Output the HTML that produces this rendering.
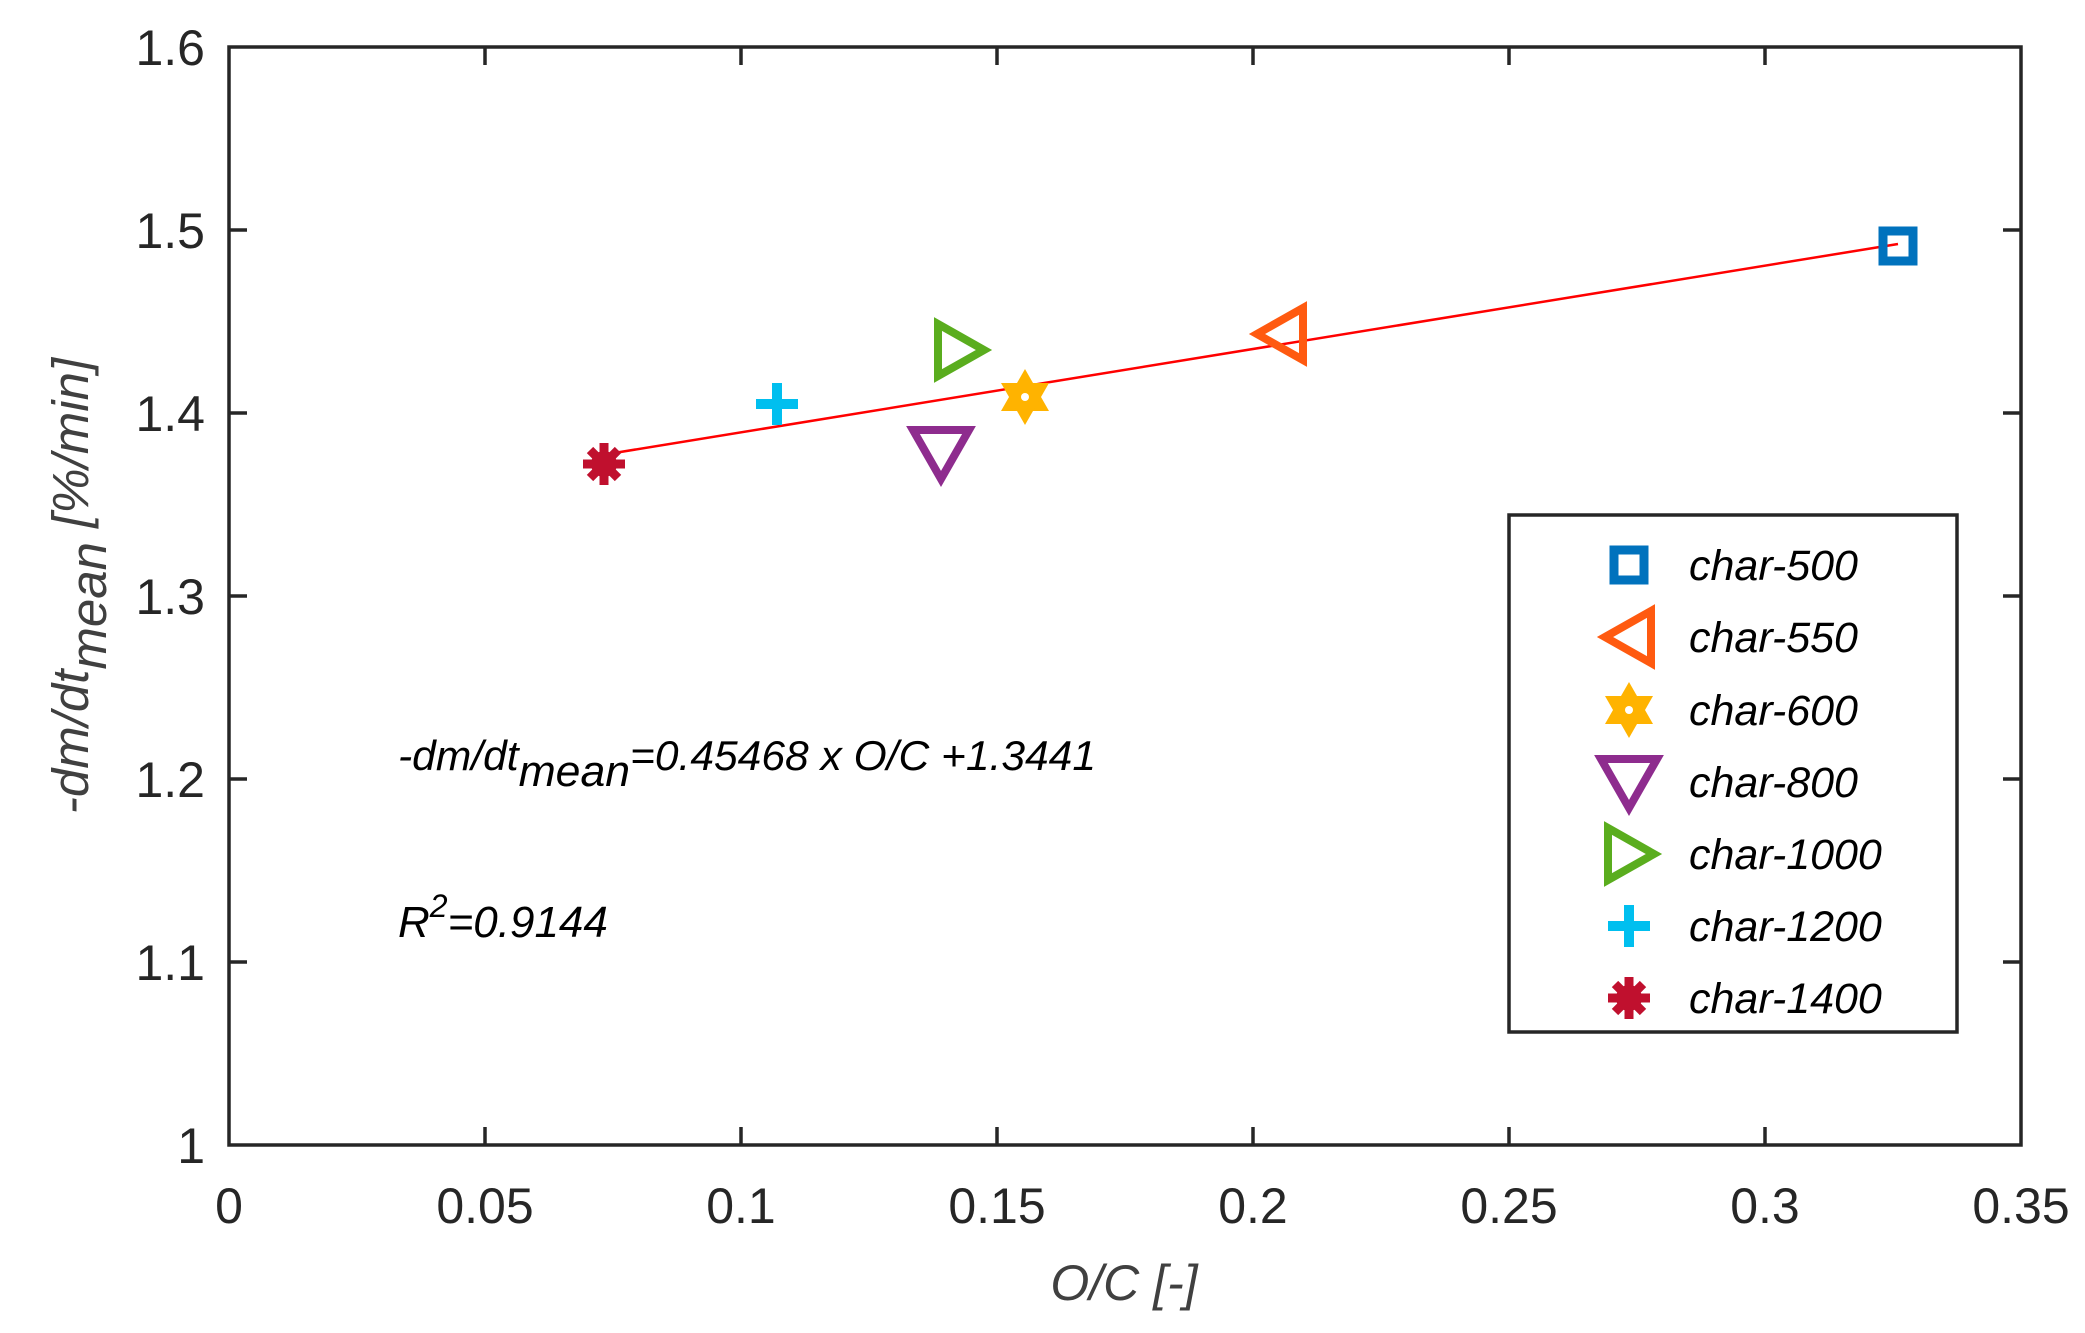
<!DOCTYPE html>
<html><head><meta charset="utf-8"><style>html,body{margin:0;padding:0;background:#fff}svg{display:block}</style></head>
<body>
<svg width="2085" height="1333" viewBox="0 0 2085 1333" xmlns="http://www.w3.org/2000/svg" font-family="Liberation Sans, Arial, sans-serif">
<rect width="2085" height="1333" fill="#fff"/>
<g stroke="#262626" stroke-width="3.5" fill="none">
<rect x="229" y="47" width="1792" height="1098"/>
<path d="M485 1145v-18M741 1145v-18M997 1145v-18M1253 1145v-18M1509 1145v-18M1765 1145v-18
M485 47v18M741 47v18M997 47v18M1253 47v18M1509 47v18M1765 47v18
M229 230h18M229 413h18M229 596h18M229 779h18M229 962h18
M2021 230h-18M2021 413h-18M2021 596h-18M2021 779h-18M2021 962h-18"/>
</g>
<g fill="#262626" font-size="50" text-anchor="middle">
<text x="229" y="1223">0</text><text x="485" y="1223">0.05</text><text x="741" y="1223">0.1</text><text x="997" y="1223">0.15</text><text x="1253" y="1223">0.2</text><text x="1509" y="1223">0.25</text><text x="1765" y="1223">0.3</text><text x="2021" y="1223">0.35</text>
</g>
<g fill="#262626" font-size="50" text-anchor="end">
<text x="205" y="65">1.6</text><text x="205" y="248">1.5</text><text x="205" y="431">1.4</text><text x="205" y="614">1.3</text><text x="205" y="797">1.2</text><text x="205" y="980">1.1</text><text x="205" y="1163">1</text>
</g>
<text x="1124" y="1300" font-size="50" font-style="italic" fill="#404040" text-anchor="middle">O/C [-]</text>
<text transform="translate(88,586) rotate(-90)" font-size="51" font-style="italic" fill="#404040" text-anchor="middle">-dm/dt<tspan dy="18">mean</tspan><tspan dy="-18"> [%/min]</tspan></text>
<line x1="608" y1="454" x2="1898" y2="244" stroke="#ff0000" stroke-width="2.5"/>
<text x="398" y="770" font-size="42" font-style="italic" fill="#000" textLength="698" lengthAdjust="spacingAndGlyphs">-dm/dt<tspan dy="16" font-size="44">mean</tspan><tspan dy="-16">=0.45468 x O/C +1.3441</tspan></text>
<text x="398" y="937" font-size="44" font-style="italic" fill="#000">R<tspan font-size="32" dy="-20">2</tspan><tspan dy="20">=0.9144</tspan></text>
<defs>
<g id="sq"><rect x="-15" y="-15" width="30" height="30" fill="none" stroke="#0072BD" stroke-width="9"/></g>
<g id="lt"><polygon points="-24,0 22,-26 22,26" fill="none" stroke="#FF5A10" stroke-width="8"/></g>
<g id="hx"><polygon points="0,-28 24,14 -24,14" fill="#FFB300"/><polygon points="0,28 24,-14 -24,-14" fill="#FFB300"/><circle r="4" fill="#fff"/></g>
<g id="dt"><polygon points="-28,-23 28,-23 0,26" fill="none" stroke="#8E2C8E" stroke-width="8"/></g>
<g id="rt"><polygon points="-21,-26 -21,26 25,0" fill="none" stroke="#5AAD1E" stroke-width="8"/></g>
<g id="pl"><path d="M-21 0H21M0 -21V21" stroke="#00BFEF" stroke-width="10"/></g>
<g id="as"><circle r="13" fill="#C0102E"/><path d="M-21 0H21M0 -21V21M-14 -14L14 14M-14 14L14 -14" stroke="#C0102E" stroke-width="9"/></g>
</defs>
<use href="#sq" x="1898" y="246"/>
<use href="#lt" x="1281" y="334"/>
<use href="#hx" x="1025" y="397"/>
<use href="#dt" x="941" y="453"/>
<use href="#rt" x="959" y="350"/>
<use href="#pl" x="777" y="404"/>
<use href="#as" x="604" y="464"/>
<rect x="1509" y="515" width="448" height="517" fill="#fff" stroke="#262626" stroke-width="3.5"/>
<g transform="translate(-16,-3)">
<use href="#sq" x="1645" y="568"/>
<use href="#lt" x="1645" y="640"/>
<use href="#hx" x="1645" y="713"/>
<use href="#dt" x="1645" y="785"/>
<use href="#rt" x="1645" y="857"/>
<use href="#pl" x="1645" y="929"/>
<use href="#as" x="1645" y="1001"/>
<g font-size="43" font-style="italic" fill="#000">
<text x="1705" y="583">char-500</text><text x="1705" y="655">char-550</text><text x="1705" y="728">char-600</text><text x="1705" y="800">char-800</text><text x="1705" y="872">char-1000</text><text x="1705" y="944">char-1200</text><text x="1705" y="1016">char-1400</text>
</g>
</g>
</svg>
</body></html>
